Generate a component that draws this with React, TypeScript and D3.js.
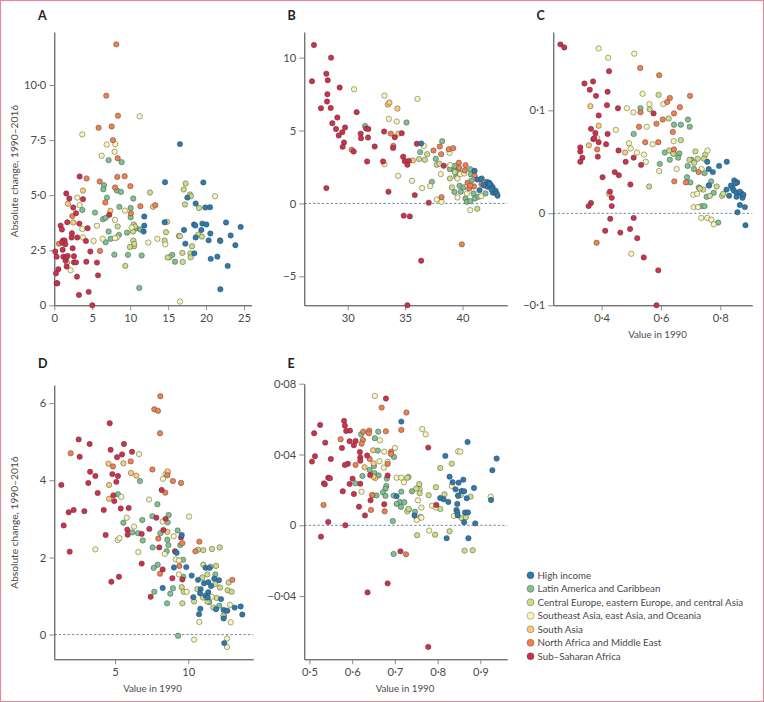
import React, { useEffect, useRef } from "react";
import * as d3 from "d3";

type P = [number, number];

const regions = [
  "High income",
  "Latin America and Caribbean",
  "Central Europe, eastern Europe, and central Asia",
  "Southeast Asia, east Asia, and Oceania",
  "South Asia",
  "North Africa and Middle East",
  "Sub-Saharan Africa",
];
const colors = ["#2a7bb2", "#7fc290", "#cbdd85", "#fcf6b6", "#fdca72", "#f47f4e", "#d0304c"];
const drawOrder = [1, 2, 3, 4, 5, 6, 0];

const aHigh: P[] = [[14.59,5.59],[16.56,7.32],[19.64,5.58],[17.53,4.89],[18.63,4.62],[19.9,4.44],[20.52,4.45],[11.86,4.03],[11.86,3.62],[11.78,3.35],[14.54,3.77],[17.09,3.42],[18.41,3.67],[18.59,3.62],[19.51,3.71],[20.04,3.67],[19.38,3.42],[20.56,3.26],[18.63,3.08],[20.34,2.95],[17.27,2.8],[18.45,2.36],[20.61,2.11],[21.49,2.21],[21.84,2.95],[21.88,2.92],[22.63,3.76],[23.24,3.17],[24.56,3.56],[23.86,2.73],[22.85,1.79],[21.88,0.73]];
const aLatin: P[] = [[7.16,6.59],[8.88,6.5],[6.55,5.45],[6.46,5.27],[8.26,5.21],[8.79,5.15],[5.36,4.21],[3.69,4.33],[6.94,4.89],[8.57,4.47],[10.41,4.85],[10.06,4.42],[10.06,4.0],[6.41,3.91],[6.77,3.97],[7.16,3.35],[6.77,2.86],[7.43,3.02],[8.52,3.2],[9.58,3.3],[7.91,2.3],[9.71,2.29],[11.51,2.26],[11.2,0.79],[10.76,3.5],[11.34,3.44],[15.55,2.29],[15.9,1.98]];
const aCentral: P[] = [[12.61,5.12],[13.0,4.47],[17.31,5.53],[17.05,5.26],[17.88,5.03],[18.01,4.95],[17.22,4.58],[19.07,4.42],[14.85,3.79],[14.72,3.32],[14.54,2.94],[16.43,3.15],[16.56,3.14],[18.98,3.21],[19.46,3.12],[18.15,2.68],[17.93,2.36],[16.87,2.38],[16.92,1.97],[17.97,2.18],[15.16,2.18],[14.94,2.17],[10.5,2.68],[9.97,2.65],[9.36,1.79],[10.41,2.94],[10.55,2.79],[10.46,3.67],[10.37,3.35],[10.63,3.58],[8.35,3.58]];
const aSoutheast: P[] = [[3.69,7.76],[11.25,8.58],[6.9,7.3],[8.04,7.32],[7.95,6.97],[6.24,6.79],[3.03,4.89],[3.34,4.55],[3.69,3.47],[5.62,3.61],[5.18,2.92],[3.78,3.08],[2.15,1.59],[6.37,3.02],[8.0,3.88],[9.31,4.3],[8.26,3.08],[8.0,3.05],[10.19,3.53],[12.39,2.85],[13.58,3.02],[14.63,2.77],[16.56,0.17],[21.18,4.95]];
const aSouth: P[] = [[1.8,4.61],[3.78,5.21],[2.5,3.76],[7.38,4.29],[1.67,1.94]];
const aNorth: P[] = [[8.17,11.85],[6.85,9.52],[8.39,8.61],[5.84,8.06],[7.56,8.12],[7.73,7.5],[8.35,6.68],[8.3,5.83],[9.27,5.86],[4.26,5.76],[5.98,5.62],[8.0,5.35],[10.02,5.41],[6.72,4.67],[11.34,4.5],[13.31,4.55],[10.1,4.18],[6.02,2.47],[0.62,2.8],[2.37,4.05]];
const aSub: P[] = [[0.13,2.44],[0.31,2.21],[0.53,1.64],[0.22,1.45],[0.31,1.0],[0.4,1.0],[0.83,3.62],[1.01,3.44],[1.14,2.94],[1.36,2.94],[1.05,2.85],[1.1,2.52],[1.19,2.21],[1.49,2.03],[1.45,2.77],[1.58,2.18],[1.63,1.76],[1.76,2.24],[1.71,3.77],[1.58,5.08],[1.98,4.85],[2.33,3.27],[2.28,3.08],[2.42,2.59],[2.59,2.23],[2.59,1.95],[2.86,1.95],[2.86,4.18],[2.5,4.44],[3.03,3.08],[2.99,1.3],[3.25,0.47],[3.3,3.71],[3.34,5.85],[3.78,4.82],[4.39,3.5],[4.17,2.92],[4.75,2.44],[4.22,1.98],[5.62,1.94],[5.76,1.36],[4.53,0.61],[5.01,0],[7.25,4.11]];

const bHigh: P[] = [[36.4,4.11],[41.05,2.24],[41.28,1.64],[41.6,1.67],[42.12,1.48],[42.33,1.42],[42.47,1.26],[42.62,1.12],[42.2,1.14],[42.65,0.73],[42.88,0.87],[42.97,0.68],[43.05,0.53],[41.48,0.91],[42.53,0.96],[42.35,1.32],[41.83,1.26]];
const bLatin: P[] = [[31.51,5.32],[35.12,5.55],[36.31,3.52],[38.23,4.27],[37.67,3.06],[37.33,1.48],[38.9,2.35],[39.3,2.28],[39.36,2.58],[39.45,1.83],[39.74,1.21],[39.3,0.78],[39.85,0.8],[40.26,0.34],[40.38,0.11],[40.67,0.16],[41.08,0.34],[41.4,0.46],[40.67,2.35],[40.73,1.99],[40.78,1.55],[40.09,1.1],[40.96,0.68],[42,0.68],[41.69,1.71],[39.65,2.17]];
const bCentral: P[] = [[36.22,3.04],[36.72,2.99],[36.92,3.38],[37.76,2.65],[37.99,2.72],[38.9,1.71],[39.07,1.1],[39.33,2.15],[41.28,-0.37]];
const bSoutheast: P[] = [[30.55,7.83],[33.2,7.4],[33.58,5.8],[34.27,5.62],[36.08,7.17],[33.2,2.69],[34.39,1.89],[35.61,1.55],[36.48,1.05],[36.63,3.95],[37.76,0.27],[38.17,0.11],[38.11,2.01],[37.18,1.19],[40.67,-0.46],[40.38,0.68],[40.44,1.23],[41.63,0.5],[38.87,3.47],[38.92,2.63],[39.56,1.71],[39.56,0.41],[39.8,2.01],[40.15,2.05]];
const bSouth: P[] = [[33.49,6.78],[33.63,6.92],[34.33,6.51],[34.42,4.79],[35.67,2.95]];
const bNorth: P[] = [[30.35,3.68],[33.75,4.79],[33.98,3.95],[37.47,3.63],[38.02,3.9],[38.14,3.38],[38.81,3.72],[39.19,3.79],[39.68,2.79],[39.71,2.44],[40.26,2.63],[40.2,2.26],[38.17,0.43],[39.94,-2.81],[41.05,1.92],[40.44,1.42],[40.58,1.03],[41,1.16],[41.66,1.32],[41.92,1.23],[40.67,1.23]];
const bSub: P[] = [[27.06,10.87],[28.55,10],[26.89,8.38],[28.14,8.9],[28.26,8.45],[29.3,7.95],[28.23,7.49],[28.2,6.99],[27.67,6.53],[28.52,6.55],[29.1,5.89],[30.78,6.26],[28.66,5.5],[28.98,5.11],[29.77,5.21],[29.53,4.89],[29.22,4.66],[29.68,4.18],[29.56,3.88],[31.13,4.79],[31.16,4.47],[31.6,5.14],[31.8,5.11],[31.77,4.52],[30.52,3.56],[31.69,2.88],[32.35,3.9],[33.17,4.93],[34.1,4.54],[34.71,4.82],[33.95,3.81],[33.08,2.88],[34.83,3.2],[34.97,2.9],[35.32,2.92],[35.2,2.65],[36.02,4.09],[38.37,2.58],[28.14,1.05],[33.55,0.8],[35.84,0.57],[37.06,0.05],[34.88,-0.84],[35.41,-0.89],[36.4,-3.93],[35.2,-6.99]];

const cHigh: P[] = [[.756,.05],[.761,.043],[.775,.04],[.796,.046],[.822,.05],[.847,.032],[.857,.03],[.836,.027],[.821,.023],[.842,.024],[.83,.017],[.846,.022],[.855,.02],[.872,.019],[.855,.016],[.875,.015],[.866,.008],[.883,.006],[.858,.001],[.885,-.013],[.761,.027],[.851,.029],[.866,.021],[.878,.018]];
const cLatin: P[] = [[.531,.102],[.691,.091],[.644,.086],[.667,.086],[.697,.084],[.508,.077],[.613,.059],[.642,.058],[.662,.058],[.658,.054],[.63,.052],[.596,.048],[.69,.046],[.703,.052],[.711,.043],[.747,.039],[.688,.035],[.699,.03],[.769,.031],[.763,.027],[.728,.025],[.754,.016],[.778,.02],[.737,.007],[.747,.007],[.793,-.01]];
const cCentral: P[] = [[.592,.115],[.562,.101],[.626,.092],[.628,.061],[.667,.071],[.56,.026],[.716,.06],[.749,.057],[.745,.053],[.696,.052],[.724,.053],[.788,.026],[.806,.017],[.81,.019],[.765,.017],[.743,.023],[.712,.049],[.731,.024],[.642,.058]];
const cSoutheast: P[] = [[.39,.16],[.422,.151],[.51,.155],[.538,.116],[.561,.106],[.608,.106],[.485,.102],[.507,.098],[.552,.084],[.448,.081],[.385,.073],[.492,.068],[.498,.063],[.519,.059],[.543,.057],[.572,.067],[.643,.07],[.549,.05],[.594,.041],[.653,.043],[.757,.061],[.709,.018],[.722,.019],[.71,.006],[.725,.006],[.736,-.005],[.756,-.005],[.77,-.007],[.778,-.012],[.5,-.044],[.737,.043]];
const cSouth: P[] = [[.362,.104],[.39,.085],[.357,.066],[.479,.059],[.425,.019]];
const cNorth: P[] = [[.53,.141],[.594,.134],[.63,.112],[.621,.108],[.698,.114],[.664,.103],[.531,.098],[.644,.097],[.606,.091],[.585,.087],[.526,.084],[.64,.079],[.547,.069],[.591,.069],[.385,.062],[.644,.062],[.727,.04],[.645,.031],[.684,.03],[.383,-.032]];
const cSub: P[] = [[.261,.164],[.274,.161],[.425,.138],[.371,.128],[.342,.126],[.36,.12],[.42,.118],[.381,.114],[.418,.105],[.455,.102],[.575,.097],[.39,.095],[.364,.082],[.379,.078],[.42,.077],[.372,.072],[.375,.073],[.39,.069],[.415,.067],[.328,.064],[.328,.06],[.335,.054],[.328,.05],[.387,.055],[.457,.061],[.481,.05],[.508,.054],[.533,.047],[.444,.04],[.458,.037],[.403,.035],[.497,.028],[.428,.021],[.434,.015],[.434,.007],[.364,.01],[.356,.007],[.429,-.006],[.508,-.005],[.412,-.019],[.463,-.021],[.496,-.017],[.52,-.027],[.542,-.048],[.591,-.062],[.585,-.1]];

const dHigh: P[] = [[9.55,2.58],[9.2,2.12],[9.02,1.74],[9.86,1.75],[10.23,1.53],[8.25,1.21],[10.66,1.42],[11.07,1.33],[11.36,1.36],[11.18,1.73],[11.45,1.73],[11.77,1.45],[12.09,1.41],[11.55,1.26],[10.84,1.18],[11.36,1.1],[10.8,1.07],[11.18,1.01],[10.34,.97],[11.32,.96],[12.23,.92],[10.82,.67],[11.89,.66],[10.73,.53],[12.41,.64],[12.66,.62],[13.16,.7],[13.57,.73],[13.68,.52],[12.41,.42],[12.45,-.22]];
const dLatin: P[] = [[6.7,3.98],[7.89,3.38],[8.66,3.1],[5.2,3.64],[5.57,2.9],[6.18,2.65],[6.86,2.97],[7.55,3.07],[8.59,2.91],[6.57,2.63],[6.89,2.44],[7.57,2.26],[8.09,2.63],[8.57,2.46],[8.64,2.32],[8.52,2.16],[9.27,2.7],[9.45,2.32],[9.64,1.94],[7.91,1.81],[7.64,1.73],[7.68,1.11],[8.95,1.2],[8.77,1.06],[8.55,.81],[9.3,-.03],[9.66,1.5],[11.84,1.56],[11.43,.84],[12.11,.75],[12.43,.49]];
const dCentral: P[] = [[9.55,1.23],[9.59,.81],[9.68,1.11],[10.61,1.18],[10.39,.86],[10.66,2.2],[11.02,2.19],[11.61,2.22],[12.14,2.26],[11.02,1.81],[11.52,1.76],[11.89,1.78],[10.95,1.48],[11.3,1.56],[11.84,1.31],[12.16,1.22],[12.75,1.35],[12.68,1.15],[12.95,1.11],[11,.96],[11.3,.86],[11.7,.7],[11.93,.95],[12.39,.49]];
const dSoutheast: P[] = [[6.64,4.68],[5.43,3.57],[5.8,3.03],[6.3,2.8],[5.18,2.45],[5.3,2.5],[3.66,2.21],[6.59,2.14],[7.32,3.5],[8.27,4.04],[8.45,4.16],[8.59,4.21],[10.05,3.06],[8.25,2.93],[9.0,2.55],[8.39,2.09],[9.14,1.95],[9.36,1.92],[9.36,1.56],[9.89,1.11],[11.59,.98],[12.84,.77],[10.75,.33],[12.89,.32],[12.64,-.32],[12.64,-.1],[10.39,-.13]];
const dSouth: P[] = [[4.55,4.43],[5.57,4.44],[6.09,4.19],[6.45,4.12],[4.59,3.88],[4.59,3.52],[8.59,4.23],[8.57,2.66]];
const dNorth: P[] = [[8.09,6.18],[7.68,5.84],[7.93,5.8],[8.07,5.22],[1.98,4.7],[4.86,4.36],[6.07,4.49],[7.55,4.28],[8.57,4.13],[8.95,3.98],[9.5,3.93],[8.43,3.68],[7.95,2.49],[9.59,2.37],[10.75,2.41],[10.48,2.16],[9.39,1.78],[8.07,1.58],[13,1.42]];
const dSub: P[] = [[4.64,5.48],[2.52,5.06],[3.27,4.94],[5.61,4.94],[4.7,4.79],[2.59,4.61],[5.14,4.6],[5.48,4.67],[6.16,4.74],[3.3,4.22],[3.66,4.11],[4.82,4.16],[5.2,4.11],[5.09,3.96],[3.18,3.93],[1.34,3.88],[3.82,3.67],[4.89,3.61],[4.95,3.46],[5.39,3.27],[5.93,3.28],[4.23,3.23],[2.18,3.23],[2.91,3.2],[1.84,3.17],[1.5,2.83],[4.36,2.58],[5.84,2.72],[5.86,2.59],[6.82,2.61],[7.34,2.74],[7.82,3.03],[8.18,3.75],[8.45,3.0],[8.3,2.71],[8.02,2.26],[9.09,2.16],[9.5,2.52],[1.91,2.15],[6.82,1.84],[5.27,1.5],[4.75,1.37],[7.43,.98],[8.25,1.69],[8.91,1.46],[9.59,1.43]];

const eHigh: P[] = [[.715,.0586],[.87,.0471],[.818,.0392],[.938,.0377],[.928,.0311],[.828,.0275],[.86,.0258],[.835,.0243],[.849,.0241],[.885,.0211],[.842,.0203],[.856,.0194],[.862,.0192],[.806,.0154],[.814,.0147],[.825,.0132],[.848,.0168],[.868,.0153],[.925,.0143],[.846,.0121],[.704,.0164],[.844,.0087],[.846,.0073],[.847,.0056],[.864,.0072],[.871,.0073],[.862,.0017],[.888,.0011],[.746,.0055],[.821,-.0073],[.872,-.0073]];
const eLatin: P[] = [[.621,.0514],[.661,.0529],[.653,.0492],[.66,.0422],[.698,.0386],[.651,.0335],[.641,.0313],[.652,.0294],[.662,.0282],[.681,.0264],[.624,.0279],[.608,.0237],[.68,.0222],[.678,.0207],[.672,.0186],[.657,.0169],[.678,.0166],[.697,.0168],[.715,.019],[.74,.0192],[.712,.0132],[.722,.013],[.704,.0121],[.714,.0104],[.732,.009],[.747,.0077],[.695,.0024],[.697,-.0162]];
const eCentral: P[] = [[.752,-.0056],[.794,-.0053],[.828,-.0034],[.863,-.0143],[.882,-.0141],[.806,.0324],[.833,.0348],[.796,.0215],[.816,.0175],[.806,.0092],[.779,.017],[.757,.0232],[.758,.0203],[.758,.0181],[.75,.0207],[.732,.0273],[.729,.0269],[.729,.0079],[.732,.0092],[.76,.0047],[.848,.0166],[.854,.0171],[.877,.0162],[.856,.004],[.866,.0045]];
const eSoutheast: P[] = [[.653,.0731],[.764,.0544],[.772,.0514],[.665,.048],[.675,.0416],[.7,.0437],[.664,.0362],[.674,.0326],[.683,.0358],[.622,.019],[.704,.0269],[.715,.0269],[.721,.0243],[.754,.0141],[.762,.01],[.762,.0043],[.751,.003],[.787,.0111],[.796,.01],[.78,-.003],[.848,.0418],[.853,.0416],[.833,.0222],[.838,.0053],[.924,.0162]];
const eSouth: P[] = [[.649,.0424],[.629,.0328],[.65,.035],[.654,.0267],[.647,.0169],[.65,.0275]];
const eNorth: P[] = [[.669,.0665],[.727,.0637],[.715,.0539],[.679,.0531],[.64,.0535],[.639,.052],[.626,.0529],[.573,.0486],[.625,.0482],[.622,.0461],[.691,.0416],[.691,.0403],[.641,.0375],[.608,.0341],[.683,.0347],[.647,.0171],[.533,.0115],[.644,.0087],[.676,.0079],[.726,-.0164]];
const eSub: P[] = [[.679,.0716],[.525,.0567],[.581,.059],[.583,.0563],[.586,.0533],[.595,.0535],[.511,.052],[.537,.0467],[.594,.0475],[.608,.0476],[.604,.0452],[.576,.0437],[.778,.0439],[.618,.0414],[.635,.0394],[.513,.039],[.619,.0384],[.619,.0365],[.55,.0375],[.506,.036],[.59,.0348],[.583,.0341],[.642,.0284],[.683,.0281],[.601,.0264],[.544,.0269],[.548,.0266],[.534,.0237],[.536,.0232],[.594,.0234],[.619,.0235],[.578,.0192],[.604,.0177],[.643,.0141],[.675,.0119],[.616,.0105],[.63,.0056],[.544,.0019],[.584,0],[.527,-.0064],[.797,.0115],[.713,-.0147],[.683,-.0328],[.636,-.0379],[.778,-.0687]];

const dot = (v: d3.NumberValue, digits: number) =>
  d3.format(`.${digits}f`)(v).replace(".", "·").replace("-", "−");

interface Panel {
  letter: string;
  series: P[][];
  xDomain: number[];
  yDomain: number[];
  xRange: number[];
  yRange: number[];
  xTicks: number[];
  yTicks: number[];
  xDigits: number;
  yDigits: number;
  letterX: number;
  letterY: number;
  zero: boolean;
  xLabelX?: number;
  yLabelY?: number;
}

const T = 32, B1 = 305.3, T2 = 385, B2 = 659.3;
const panels: Panel[] = [
  { letter: "A", series: [aHigh, aLatin, aCentral, aSoutheast, aSouth, aNorth, aSub],
    xDomain: [0, 26], yDomain: [0, 12.41], xRange: [54.3, 251.6], yRange: [B1, T],
    xTicks: [0, 5, 10, 15, 20, 25], yTicks: [0, 2.5, 5, 7.5, 10], xDigits: 0, yDigits: 1,
    letterX: 38, letterY: 20, zero: false, yLabelY: 171 },
  { letter: "B", series: [bHigh, bLatin, bCentral, bSoutheast, bSouth, bNorth, bSub],
    xDomain: [26.22, 43.9], yDomain: [-6.99, 11.76], xRange: [304.3, 507.3], yRange: [B1, T],
    xTicks: [30, 35, 40], yTicks: [-5, 0, 5, 10], xDigits: 0, yDigits: 0,
    letterX: 287.5, letterY: 20, zero: true },
  { letter: "C", series: [cHigh, cLatin, cCentral, cSoutheast, cSouth, cNorth, cSub],
    xDomain: [0.237, 0.908], yDomain: [-0.1, 0, 0.176], xRange: [553.3, 752.3], yRange: [B1, 213.3, T],
    xTicks: [0.4, 0.6, 0.8], yTicks: [-0.1, 0, 0.1], xDigits: 1, yDigits: 1,
    letterX: 536.5, letterY: 20, zero: true, xLabelX: 657.5 },
  { letter: "D", series: [dHigh, dLatin, dCentral, dSoutheast, dSouth, dNorth, dSub],
    xDomain: [0.86, 14.43], yDomain: [-0.64, 6.47], xRange: [54.3, 253.3], yRange: [B2, T2],
    xTicks: [5, 10], yTicks: [0, 2, 4, 6], xDigits: 0, yDigits: 0,
    letterX: 38, letterY: 368.3, zero: true, xLabelX: 152.5, yLabelY: 522.5 },
  { letter: "E", series: [eHigh, eLatin, eCentral, eSoutheast, eSouth, eNorth, eSub],
    xDomain: [0.488, 0.963], yDomain: [-0.0757, 0.08], xRange: [304.3, 507.3], yRange: [B2, 383.7],
    xTicks: [0.5, 0.6, 0.7, 0.8, 0.9], yTicks: [-0.04, 0, 0.04, 0.08], xDigits: 1, yDigits: 2,
    letterX: 287.5, letterY: 368.3, zero: true, xLabelX: 405 },
];

const FONT = "Lato, 'Open Sans', sans-serif";
const TXT = "#4a4a4a";
const AXIS = "#3c3c3c";

function ChartPanel({ p }: { p: Panel }) {
  const xRef = useRef<SVGGElement>(null);
  const yRef = useRef<SVGGElement>(null);
  const x = d3.scaleLinear().domain(p.xDomain).range(p.xRange);
  const y = d3.scaleLinear().domain(p.yDomain).range(p.yRange);
  const bottom = p.yRange[0];
  const left = p.xRange[0];

  useEffect(() => {
    const style = (g: d3.Selection<SVGGElement, unknown, null, undefined>) => {
      g.selectAll("text").attr("fill", TXT).style("font-size", "11.2px").style("font-family", FONT);
      g.selectAll("line").attr("stroke", "#808080").attr("stroke-width", 0.9);
      g.select(".domain").attr("stroke", AXIS).attr("stroke-width", 1);
    };
    d3.select(xRef.current!)
      .call(
        d3.axisBottom(x).tickValues(p.xTicks).tickSize(5).tickSizeOuter(0).tickPadding(4)
          .tickFormat((v) => dot(v, p.xDigits)) as any,
      )
      .call(style);
    d3.select(yRef.current!)
      .call(
        d3.axisLeft(y).tickValues(p.yTicks).tickSize(5).tickSizeOuter(0).tickPadding(3)
          .tickFormat((v) => (+v === 0 ? "0" : dot(v, p.yDigits))) as any,
      )
      .call(style);
  }, []);

  return (
    <g>
      <text x={p.letterX} y={p.letterY} fontFamily={FONT} fontWeight={700} fontSize={12.5} fill="#222">
        {p.letter}
      </text>
      {p.zero && (
        <line x1={left} x2={p.xRange[1]} y1={y(0)} y2={y(0)} stroke="#5f7f8f" strokeWidth={0.9} strokeDasharray="2.4 2" />
      )}
      <g ref={xRef} transform={`translate(0,${bottom})`} />
      <g ref={yRef} transform={`translate(${left},0)`} />
      {p.xLabelX !== undefined && (
        <text x={p.xLabelX} y={bottom + 33} textAnchor="middle" fontFamily={FONT} fontSize={9.7} fill={TXT}>
          Value in 1990
        </text>
      )}
      {p.yLabelY !== undefined && (
        <text
          transform={`translate(17.5,${p.yLabelY}) rotate(-90)`}
          textAnchor="middle"
          fontFamily={FONT}
          fontSize={10.2}
          fill={TXT}
        >
          Absolute change, 1990–2016
        </text>
      )}
      {drawOrder.map((i) =>
        p.series[i].map((d, j) => (
          <circle key={`${i}-${j}`} cx={x(d[0])} cy={y(d[1])} r={2.7} fill={colors[i]} stroke="#3a3a3a" strokeOpacity={0.8} strokeWidth={0.55} />
        )),
      )}
    </g>
  );
}

export default function App() {
  return (
    <svg width={764} height={702} style={{ position: "absolute", left: 0, top: 0, background: "#fff" }}>
      <rect x={0.5} y={0.5} width={763} height={701} fill="none" stroke="#e38aa0" strokeWidth={1.2} />
      {panels.map((p) => (
        <ChartPanel key={p.letter} p={p} />
      ))}
      {regions.map((r, i) => (
        <g key={r} transform={`translate(530.5,${575.3 + i * 13.5})`}>
          <circle r={3.5} fill={colors[i]} stroke="#3a3a3a" strokeOpacity={0.7} strokeWidth={0.5} />
          <text x={7} y={3.4} fontFamily={FONT} fontSize={9.75} fill={TXT}>
            {r.replace("-", "–")}
          </text>
        </g>
      ))}
    </svg>
  );
}
